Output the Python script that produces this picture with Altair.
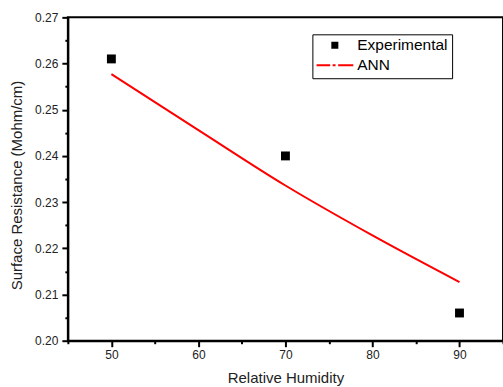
import altair as alt
import pandas as pd

# ---- data ----
rh_exp = [50, 70, 90]
sr_exp = [0.261, 0.240, 0.206]
rh_ann = [50, 60, 70, 80, 90]
sr_ann = [0.2577, 0.2456, 0.2336, 0.2228, 0.2127]
series_names = ["Experimental", "ANN"]
x_ticks = [45, 50, 55, 60, 65, 70, 75, 80, 85, 90, 95]
y_ticks = [0.200, 0.205, 0.210, 0.215, 0.220, 0.225, 0.230, 0.235,
           0.240, 0.245, 0.250, 0.255, 0.260, 0.265, 0.270]

exp_df = pd.DataFrame({"rh": rh_exp, "sr": sr_exp, "series": series_names[0]})
ann_df = pd.DataFrame({"rh": rh_ann, "sr": sr_ann, "series": series_names[1]})

FONT = "Liberation Sans"
square_path = "M-0.19,-0.19H0.19V0.19H-0.19Z"
dashdot_path = ("M-1,-0.055H-0.25V0.055H-1Z "
                "M-0.12,-0.055H0.04V0.055H-0.12Z "
                "M0.18,-0.055H1V0.055H0.18Z")

x_enc = alt.X(
    "rh:Q",
    scale=alt.Scale(domain=[45, 95], nice=False, zero=False),
    axis=alt.Axis(
        values=x_ticks,
        title="Relative Humidity",
        labelExpr="datum.value % 10 === 0 ? datum.label : ''",
        tickSize={"condition": {"test": "datum.value % 10 === 0", "value": 6}, "value": 3},
        labelPadding=3,
        titleY=37,
        titleBaseline="middle",
    ),
)
y_enc = alt.Y(
    "sr:Q",
    scale=alt.Scale(domain=[0.20, 0.27], nice=False, zero=False),
    axis=alt.Axis(
        values=y_ticks,
        title="Surface Resistance (Mohm/cm)",
        labelExpr="abs(datum.value*100 - round(datum.value*100)) < 0.01 ? format(datum.value, '.2f') : ''",
        tickSize={"condition": {"test": "abs(datum.value*100 - round(datum.value*100)) < 0.01", "value": 6}, "value": 3},
        labelPadding=4,
        titleX=-51,
        titleY=168,
        titleBaseline="middle",
    ),
)

legend = alt.Legend(
    title=None,
    orient="none",
    legendX=245,
    legendY=17,
    strokeColor="black",
    fillColor="white",
    padding=4,
    symbolSize=1369,
    symbolStrokeWidth=0,
    clipHeight=14,
    rowPadding=4,
    labelOffset=4,
    labelFont=FONT,
    labelFontSize=15.5,
    labelColor="black",
)

points = alt.Chart(exp_df).mark_point(filled=True, size=2200, opacity=1).encode(
    x=x_enc,
    y=y_enc,
    color=alt.Color("series:N", scale=alt.Scale(domain=series_names, range=["black", "red"]), legend=legend),
    shape=alt.Shape("series:N", scale=alt.Scale(domain=series_names, range=[square_path, dashdot_path]), legend=legend),
)

line = alt.Chart(ann_df).mark_line(color="red", strokeWidth=2, interpolate="monotone").encode(
    x=x_enc,
    y=y_enc,
)

chart = alt.layer(line, points).properties(
    width=436,
    height=324,
    padding={"left": 68, "top": 17, "right": 0, "bottom": 46},
    autosize=alt.AutoSizeParams(type="none"),
    background="white",
).configure_view(
    stroke="black", strokeWidth=2
).configure_axis(
    grid=False,
    domainColor="black",
    domainWidth=2,
    tickColor="black",
    tickWidth=2,
    labelFont=FONT,
    labelFontSize=12,
    labelColor="#222222",
    labelOverlap=False,
    labelFlush=False,
    titleFont=FONT,
    titleFontSize=15,
    titleFontWeight="normal",
    titleColor="#222222",
)

chart.save("out.html", embed_options={"renderer": "svg", "actions": False})
